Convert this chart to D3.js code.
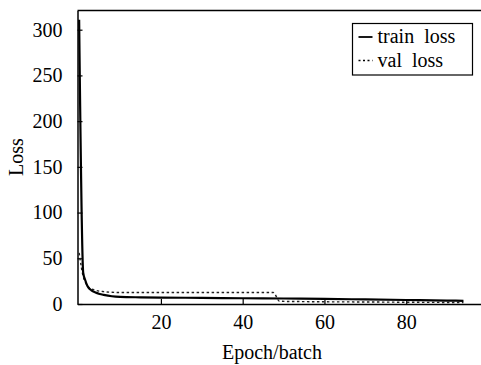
<!DOCTYPE html>
<html>
<head>
<meta charset="utf-8">
<script src="https://cdn.jsdelivr.net/npm/d3@7"></script>
<style>
  body { margin: 0; background: #fff; }
</style>
</head>
<body>
<div id="chart"></div>
<script>
// values
const trainEpochs = [0, 1, 1.5, 2, 3, 4, 5, 6, 8, 10, 15, 20, 30, 40, 50, 60, 70, 80, 90, 94];
const trainLoss = [311, 34, 26, 20, 15, 12.5, 11, 10, 8.5, 7.8, 7.3, 7, 6.7, 6.3, 6, 5.6, 5, 4.4, 3.8, 3.5];

const valEpochs = [0, 1, 1.5, 2, 3, 4, 6, 8, 10, 20, 30, 40, 47.5, 49, 55, 70, 85, 94];
const valLoss = [56, 30, 24, 20, 16.5, 15, 13.5, 12.8, 12.5, 12.5, 12.5, 12.5, 12.5, 3, 2.6, 2.2, 1.8, 1.6];

const xTicks = [20, 40, 60, 80];
const yTicks = [0, 50, 100, 150, 200, 250, 300];
const legendLabels = ['train  loss', 'val  loss'];

const FONT = 'Times New Roman, Times, Tinos, Liberation Serif, Noto Serif, DejaVu Serif, FreeSerif, serif';

const width = 481;
const height = 365;
const margin = { t: 10.5, r: -7, b: 61, l: 77.5 };

const svg = d3
  .select('#chart')
  .append('svg')
  .attr('width', width)
  .attr('height', height)
  .attr('font-family', FONT);

const x = d3.scaleLinear().domain([-0.4, 100]).range([margin.l, width - margin.r]);
const y = d3.scaleLinear().domain([0, 321]).range([height - margin.b, margin.t]);

const train = trainEpochs.map((e, i) => ({ x: e, y: trainLoss[i] }));
const val = valEpochs.map((e, i) => ({ x: e, y: valLoss[i] }));

const line = d3
  .line()
  .x((d) => x(d.x))
  .y((d) => y(d.y))
  .curve(d3.curveMonotoneX);

// axes (ticks inside)
const xAxis = svg
  .append('g')
  .attr('transform', `translate(0, ${y(0)})`)
  .call(d3.axisBottom(x).tickValues(xTicks).tickSizeInner(-5).tickSizeOuter(0).tickPadding(11));

const yAxis = svg
  .append('g')
  .attr('transform', `translate(${x(-0.4)}, 0)`)
  .call(d3.axisLeft(y).tickValues(yTicks).tickSizeInner(-5).tickSizeOuter(0).tickPadding(15));

[xAxis, yAxis].forEach((a) => {
  a.attr('font-family', FONT).attr('font-size', 20);
  a.select('.domain').attr('stroke', '#000').attr('stroke-width', 1.5);
  a.selectAll('.tick line').attr('stroke', '#000').attr('stroke-width', 1.2);
});

// top border of the frame
svg
  .append('line')
  .attr('x1', x(-0.4))
  .attr('x2', width)
  .attr('y1', y(321))
  .attr('y2', y(321))
  .attr('stroke', '#000')
  .attr('stroke-width', 1.5);

svg
  .append('path')
  .datum(val)
  .attr('d', line)
  .attr('fill', 'none')
  .attr('stroke', '#222')
  .attr('stroke-width', 1.4)
  .attr('stroke-dasharray', '2.5,2.5');

svg
  .append('path')
  .datum(train)
  .attr('d', line)
  .attr('fill', 'none')
  .attr('stroke', '#000')
  .attr('stroke-width', 2.2);

// axis titles
svg
  .append('text')
  .attr('x', 272)
  .attr('y', 359)
  .attr('text-anchor', 'middle')
  .attr('font-size', 20)
  .text('Epoch/batch');

svg
  .append('text')
  .attr('transform', 'translate(23, 157) rotate(-90)')
  .attr('text-anchor', 'middle')
  .attr('font-size', 20)
  .text('Loss');

// legend
const legend = svg.append('g').attr('transform', 'translate(352.5, 23.5)');
legend
  .append('rect')
  .attr('width', 120)
  .attr('height', 51.5)
  .attr('fill', '#fff')
  .attr('stroke', '#000')
  .attr('stroke-width', 1.2);

legendLabels.forEach((label, i) => {
  const row = legend.append('g').attr('transform', `translate(0, ${13.5 + i * 23.5})`);
  row
    .append('line')
    .attr('x1', 6)
    .attr('x2', 20)
    .attr('stroke', '#000')
    .attr('stroke-width', i === 0 ? 1.8 : 1.6)
    .attr('stroke-dasharray', i === 0 ? null : '2,2.5');
  row
    .append('text')
    .attr('x', 25)
    .attr('dy', '0.32em')
    .attr('font-size', 20)
    .style('white-space', 'pre')
    .text(label);
});
</script>
</body>
</html>
